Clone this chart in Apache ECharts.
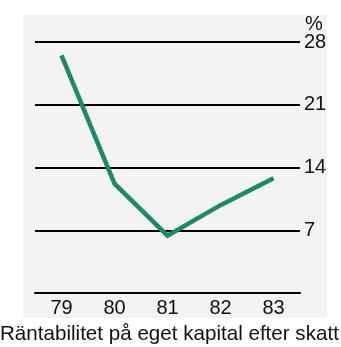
<!DOCTYPE html>
<html>
<head>
<meta charset="utf-8">
<script src="https://cdn.jsdelivr.net/npm/echarts@6/dist/echarts.min.js"></script>
<style>
  html, body { margin: 0; padding: 0; background: #ffffff; }
  #chart { width: 341px; height: 347px; }
</style>
</head>
<body>
<div id="chart"></div>
<script>
// Return on equity after tax, per year
const years = ['79', '80', '81', '82', '83'];
const roe = [26.5, 12.2, 6.4, 9.8, 12.8];
const yTicks = [0, 7, 14, 21, 28];

const FONT = '"Liberation Sans", Arial, sans-serif';
const NUM_FONT = '"Liberation Sans Narrow", "Liberation Sans", Arial, sans-serif';
const chart = echarts.init(document.getElementById('chart'), null, { renderer: 'canvas' });

chart.setOption({
  animation: false,
  backgroundColor: '#ffffff',
  grid: { left: 35, right: 41, top: 42, bottom: 54 },
  graphic: [
    {
      type: 'rect', z: -10, silent: true,
      shape: { x: 23, y: 15, width: 304, height: 303 },
      style: { fill: '#f3f3f1' }
    },
    {
      type: 'text', left: 305, top: 14,
      style: { text: '%', font: '20px ' + NUM_FONT, fill: '#111' }
    },
    {
      type: 'text', left: 0, top: 324,
      style: { text: 'Räntabilitet på eget kapital efter skatt', font: '20.6px ' + FONT, fill: '#111' }
    }
  ],
  xAxis: {
    type: 'category',
    data: years,
    boundaryGap: true,
    axisLine: { show: true, lineStyle: { color: '#000', width: 2 } },
    axisTick: { show: false },
    axisLabel: { margin: 5, color: '#111', fontSize: 20, fontFamily: NUM_FONT }
  },
  yAxis: {
    type: 'value',
    position: 'right',
    min: yTicks[0],
    max: yTicks[yTicks.length - 1],
    interval: 7,
    axisLine: { show: false },
    axisTick: { show: false },
    splitLine: { show: true, lineStyle: { color: '#000', width: 1.8 } },
    axisLabel: {
      margin: 4,
      color: '#111',
      fontSize: 20,
      fontFamily: NUM_FONT,
      formatter: v => (v === 0 ? '' : String(v))
    }
  },
  series: [{
    type: 'line',
    data: roe,
    symbol: 'none',
    lineStyle: { color: '#1b8a6c', width: 4.5, join: 'miter' },
    z: 5
  }]
});
</script>
</body>
</html>
